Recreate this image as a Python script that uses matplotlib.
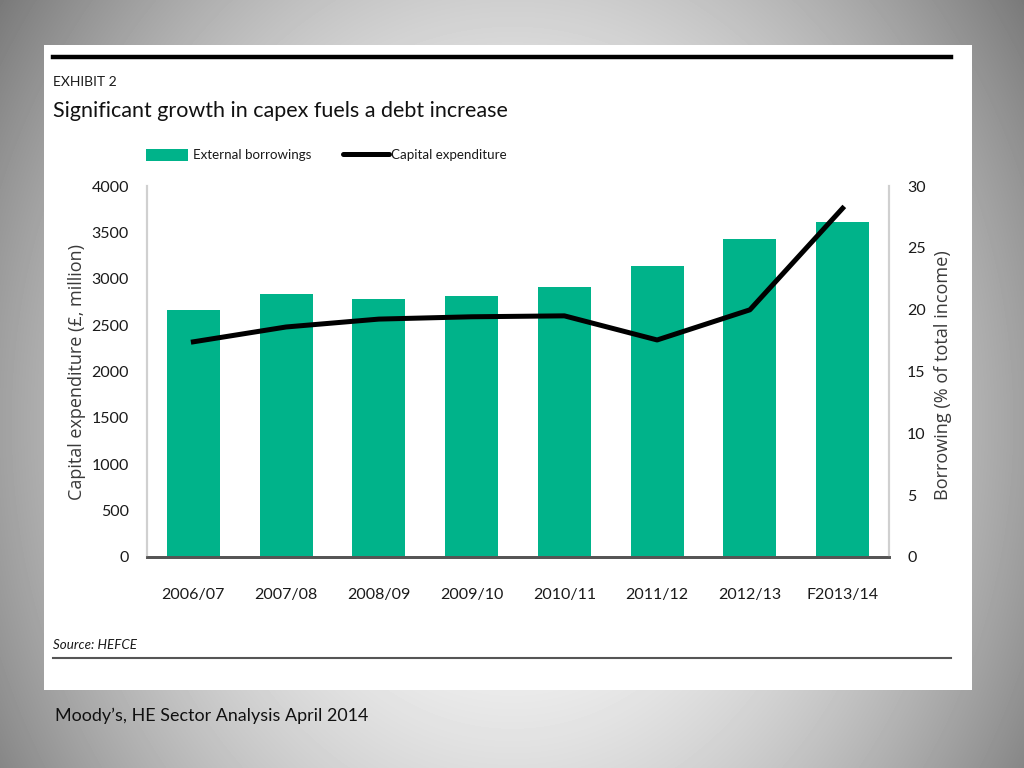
import matplotlib
matplotlib.use("Agg")
import matplotlib.pyplot as plt
import numpy as np
from matplotlib.patches import Rectangle
from matplotlib.lines import Line2D

# Daten
jahre = ["2006/07", "2007/08", "2008/09", "2009/10", "2010/11", "2011/12", "2012/13", "F2013/14"]
borrowing_pct = [20.0, 21.3, 20.9, 21.1, 21.8, 23.5, 25.7, 27.1]
capex_mio = [2320, 2480, 2565, 2590, 2600, 2340, 2665, 3760]

left_ticks = [0, 500, 1000, 1500, 2000, 2500, 3000, 3500, 4000]
right_ticks = [0, 5, 10, 15, 20, 25, 30]

GRUEN = "#00B38A"
SCHMAL = ["Lato", "DejaVu Sans"]
BREIT = ["Open Sans", "DejaVu Sans"]
TEXTFARBE = "#1a1a1a"

W, H = 1024, 768
fig = plt.figure(figsize=(W / 100, H / 100), dpi=100)
renderer = fig.canvas.get_renderer()


def passe_breite(t, ziel_px):
    # Schriftgroesse so setzen, dass der Text die Breite aus dem Bild hat
    bb = t.get_window_extent(renderer)
    laenge = max(bb.width, bb.height)
    t.set_fontsize(t.get_fontsize() * ziel_px / laenge)


# Hintergrund: grauer radialer Verlauf
bg = fig.add_axes([0, 0, 1, 1])
yy, xx = np.mgrid[0:H, 0:W]
r = np.sqrt(((xx - W * 0.5) / (W * 0.5)) ** 2 + ((yy - H * 0.55) / (H * 0.8)) ** 2)
grau = np.clip(1.0 - 0.37 * r ** 1.8, 0.45, 0.92)
bg.imshow(grau, cmap="gray", vmin=0, vmax=1, extent=[0, W, H, 0], aspect="auto")
bg.set_xlim(0, W)
bg.set_ylim(H, 0)
bg.axis("off")

# weisses Panel
bg.add_patch(Rectangle((44, 45), 928, 645, facecolor="white", edgecolor="none"))
bg.add_line(Line2D([53, 951], [57, 57], color="black", lw=3.2))
bg.add_line(Line2D([53, 951], [658, 658], color="#555555", lw=1.5))

t = bg.text(53, 82, "EXHIBIT 2", fontsize=12, family=SCHMAL, va="center", ha="left", color=TEXTFARBE)
passe_breite(t, 64)
t = bg.text(53, 111, "Significant growth in capex fuels a debt increase", fontsize=20,
            family=SCHMAL, va="center", ha="left", color="#111111")
passe_breite(t, 455)
t = bg.text(53, 645, "Source: HEFCE", fontsize=11, family=SCHMAL, style="italic",
            va="center", ha="left", color=TEXTFARBE)
passe_breite(t, 84)
t = bg.text(55, 716, "Moody\u2019s, HE Sector Analysis April 2014", fontsize=12.5,
            family=SCHMAL, va="center", ha="left", color="#111111")
passe_breite(t, 313)

# Legende von Hand
bg.add_patch(Rectangle((146, 149), 42, 12, facecolor=GRUEN, edgecolor="none"))
t = bg.text(193, 155, "External borrowings", fontsize=11.5, family=SCHMAL, va="center", ha="left", color=TEXTFARBE)
passe_breite(t, 118)
bg.add_line(Line2D([343, 389], [154, 154], color="black", lw=3.6, solid_capstyle="round"))
t = bg.text(391, 155, "Capital expenditure", fontsize=11.5, family=SCHMAL, va="center", ha="left", color=TEXTFARBE)
passe_breite(t, 115)

# Achsentitel
t = bg.text(77, 372, "Capital expenditure (\u00a3, million)", rotation=90, fontsize=10.5,
            family=BREIT, va="center", ha="center", color="#3a3a3a")
passe_breite(t, 258)
t = bg.text(943, 375, "Borrowing (% of total income)", rotation=90, fontsize=10.5,
            family=BREIT, va="center", ha="center", color="#3a3a3a")
passe_breite(t, 252)

# Diagramm
ax = fig.add_axes([147 / W, 1 - 557 / H, (889 - 147) / W, (557 - 186) / H])
ax2 = ax.twinx()
x = np.arange(len(jahre))

ax.bar(x, borrowing_pct, width=0.57, color=GRUEN, zorder=2)
ax.set_ylim(0, 30)
ax.set_xlim(-0.5, len(jahre) - 0.5)
ax.yaxis.tick_right()
ax.set_yticks(right_ticks)
ax.set_xticks(x)
ax.set_xticklabels(jahre, family=SCHMAL, fontsize=11.5, color=TEXTFARBE)
ax.set_yticklabels([str(v) for v in right_ticks], family=SCHMAL, fontsize=11.5, color=TEXTFARBE)
ax.tick_params(axis="both", length=0)
ax.tick_params(axis="x", pad=22)
ax.tick_params(axis="y", pad=13)

ax2.plot(x, capex_mio, color="black", lw=3.6, solid_joinstyle="round", zorder=3)
ax2.set_ylim(0, 4000)
ax2.yaxis.tick_left()
ax2.set_yticks(left_ticks)
ax2.set_yticklabels([str(v) for v in left_ticks], family=SCHMAL, fontsize=11.5, color=TEXTFARBE)
ax2.tick_params(axis="y", length=0, pad=13)

for a in (ax, ax2):
    a.spines["top"].set_visible(False)
    a.spines["left"].set_color("#d0d0d0")
    a.spines["right"].set_color("#d0d0d0")
    a.spines["left"].set_linewidth(1.5)
    a.spines["right"].set_linewidth(1.5)
    a.spines["bottom"].set_color("#555555")
    a.spines["bottom"].set_linewidth(2)
    a.set_facecolor("none")

fig.savefig("out.png", dpi=100)
